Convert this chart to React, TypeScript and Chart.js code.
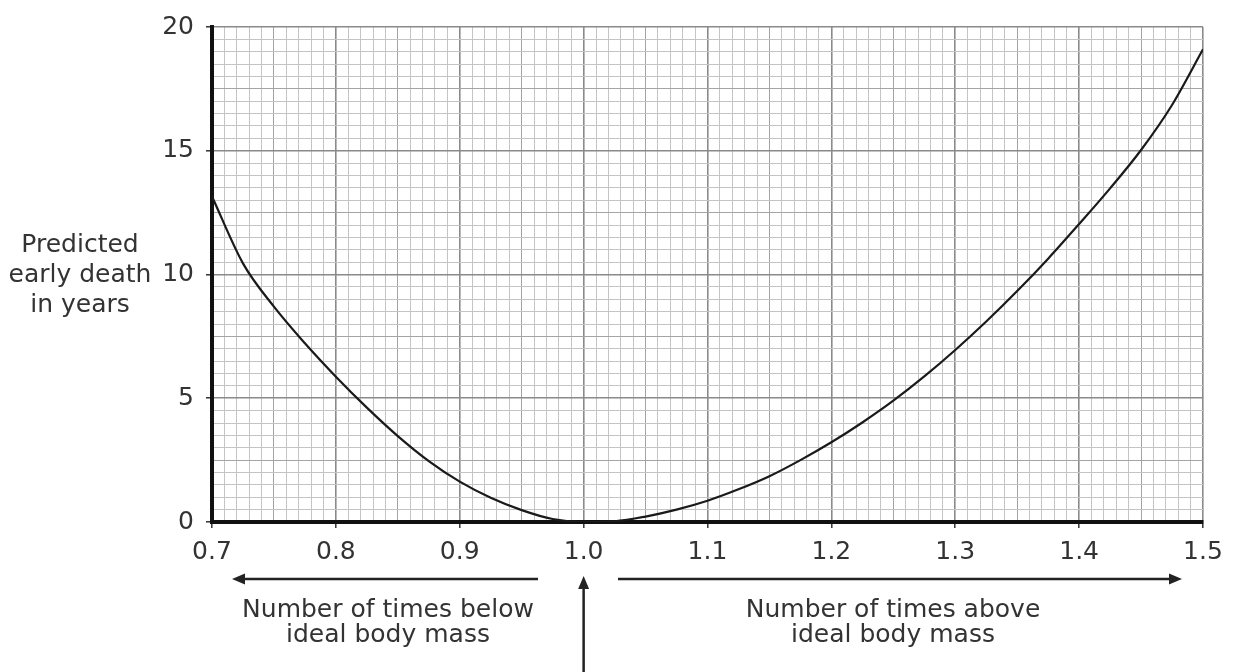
import React, { useEffect, useRef } from 'react';
import { Chart, registerables } from 'chart.js';

Chart.register(...registerables);

const massRatio = [
  0.700, 0.725, 0.750, 0.775, 0.800, 0.825, 0.850, 0.875, 0.900, 0.925, 0.950, 0.975,
  1.000, 1.025, 1.050, 1.075, 1.100, 1.125, 1.150, 1.175, 1.200, 1.225, 1.250, 1.275,
  1.300, 1.325, 1.350, 1.375, 1.400, 1.425, 1.450, 1.475, 1.500,
];
const earlyDeath = [
  13.15, 10.45, 8.7, 7.22, 5.87, 4.62, 3.47, 2.46, 1.63, 0.98, 0.48, 0.12,
  0.0, 0.03, 0.22, 0.5, 0.86, 1.32, 1.85, 2.5, 3.22, 4.02, 4.9, 5.88,
  6.95, 8.1, 9.33, 10.64, 12.04, 13.48, 15.03, 16.85, 19.1,
];

const xTickLabels = [0.7, 0.8, 0.9, 1.0, 1.1, 1.2, 1.3, 1.4, 1.5];
const yTickLabels = [0, 5, 10, 15, 20];
const yTitleLines = ['Predicted', 'early death', 'in years'];
const belowLines = ['Number of times below', 'ideal body mass'];
const aboveLines = ['Number of times above', 'ideal body mass'];

const FONT = '"DejaVu Sans", "Liberation Sans", Arial, sans-serif';
const TEXT = '#333333';

const isXLabel = (v: number) => xTickLabels.some((t) => Math.abs(t - v) < 1e-6);
const isYLabel = (v: number) => yTickLabels.some((t) => Math.abs(t - v) < 1e-6);
const isXMid = (v: number) => Math.round(v * 100) % 5 === 0;
const isYMid = (v: number) => Math.round(v * 10) % 25 === 0;

function arrow(ctx: CanvasRenderingContext2D, x1: number, y1: number, x2: number, y2: number) {
  const ang = Math.atan2(y2 - y1, x2 - x1);
  const len = 13;
  const hw = 5.5;
  const bx = x2 - Math.cos(ang) * len;
  const by = y2 - Math.sin(ang) * len;
  ctx.beginPath();
  ctx.moveTo(x1, y1);
  ctx.lineTo(bx, by);
  ctx.stroke();
  ctx.beginPath();
  ctx.moveTo(x2, y2);
  ctx.lineTo(bx + Math.sin(ang) * hw, by - Math.cos(ang) * hw);
  ctx.lineTo(bx - Math.sin(ang) * hw, by + Math.cos(ang) * hw);
  ctx.closePath();
  ctx.fill();
}

const annotations = {
  id: 'annotations',
  afterDraw(chart: any) {
    const ctx: CanvasRenderingContext2D = chart.ctx;
    const xs = chart.scales.x;
    ctx.save();
    ctx.fillStyle = TEXT;
    ctx.font = `25px ${FONT}`;
    ctx.textAlign = 'center';
    ctx.textBaseline = 'alphabetic';
    yTitleLines.forEach((l, i) => ctx.fillText(l, 80, 252 + i * 30));
    belowLines.forEach((l, i) => ctx.fillText(l, 388, 617 + i * 25));
    aboveLines.forEach((l, i) => ctx.fillText(l, 893, 617 + i * 25));

    ctx.strokeStyle = '#222';
    ctx.fillStyle = '#222';
    ctx.lineWidth = 2.5;
    const yArrow = 579;
    arrow(ctx, 538, yArrow, 232, yArrow);
    arrow(ctx, 618, yArrow, 1182, yArrow);
    const x1 = xs.getPixelForValue(1.0);
    arrow(ctx, x1, 672, x1, 576);
    ctx.restore();
  },
};

export default function App() {
  const canvasRef = useRef<HTMLCanvasElement | null>(null);

  useEffect(() => {
    if (!canvasRef.current) return;
    const chart = new Chart(canvasRef.current, {
      type: 'line',
      data: {
        datasets: [
          {
            data: massRatio.map((x, i) => ({ x, y: earlyDeath[i] })),
            borderColor: '#1a1a1a',
            borderWidth: 2.2,
            pointRadius: 0,
            fill: false,
            cubicInterpolationMode: 'monotone',
          },
        ],
      },
      options: {
        responsive: false,
        animation: false,
        events: [],
        layout: { padding: { top: 25, right: 34, left: 0, bottom: 0 } },
        plugins: {
          legend: { display: false },
          tooltip: { enabled: false },
          title: { display: false },
        },
        scales: {
          x: {
            type: 'linear',
            min: 0.7,
            max: 1.5,
            afterFit: (s: any) => {
              s.height = 150;
            },
            border: { display: true, color: '#111', width: 4 },
            grid: {
              color: (c: any) => (isXLabel(c.tick.value) ? '#8a8a8a' : isXMid(c.tick.value) ? '#a4a4a4' : '#c4c4c4'),
              lineWidth: (c: any) => (isXLabel(c.tick.value) ? 1.6 : 1),
              drawTicks: true,
              tickLength: 6,
              tickColor: (c: any) => (isXLabel(c.tick.value) ? '#333' : 'rgba(0,0,0,0)'),
              tickWidth: 1.5,
            },
            ticks: {
              stepSize: 0.01,
              autoSkip: false,
              maxRotation: 0,
              padding: 9,
              color: TEXT,
              font: { family: FONT, size: 25 },
              callback: (v: any) => (isXLabel(Number(v)) ? Number(v).toFixed(1) : ''),
            },
          },
          y: {
            type: 'linear',
            min: 0,
            max: 20,
            afterFit: (s: any) => {
              s.width = 212;
            },
            border: { display: true, color: '#111', width: 4 },
            grid: {
              color: (c: any) => (isYLabel(c.tick.value) ? '#8a8a8a' : isYMid(c.tick.value) ? '#a4a4a4' : '#c4c4c4'),
              lineWidth: (c: any) => (isYLabel(c.tick.value) ? 1.6 : 1),
              drawTicks: true,
              tickLength: 6,
              tickColor: (c: any) => (isYLabel(c.tick.value) ? '#333' : 'rgba(0,0,0,0)'),
              tickWidth: 1.5,
            },
            ticks: {
              stepSize: 0.5,
              autoSkip: false,
              padding: 12,
              color: TEXT,
              font: { family: FONT, size: 25 },
              callback: (v: any) => (isYLabel(Number(v)) ? String(Math.round(Number(v))) : ''),
            },
          },
        },
      },
      plugins: [annotations],
    } as any);
    return () => chart.destroy();
  }, []);

  return (
    <div style={{ position: 'absolute', left: 0, top: 0, width: 1237, height: 672, background: '#fff' }}>
      <canvas ref={canvasRef} width={1237} height={672} style={{ display: 'block' }} />
    </div>
  );
}
